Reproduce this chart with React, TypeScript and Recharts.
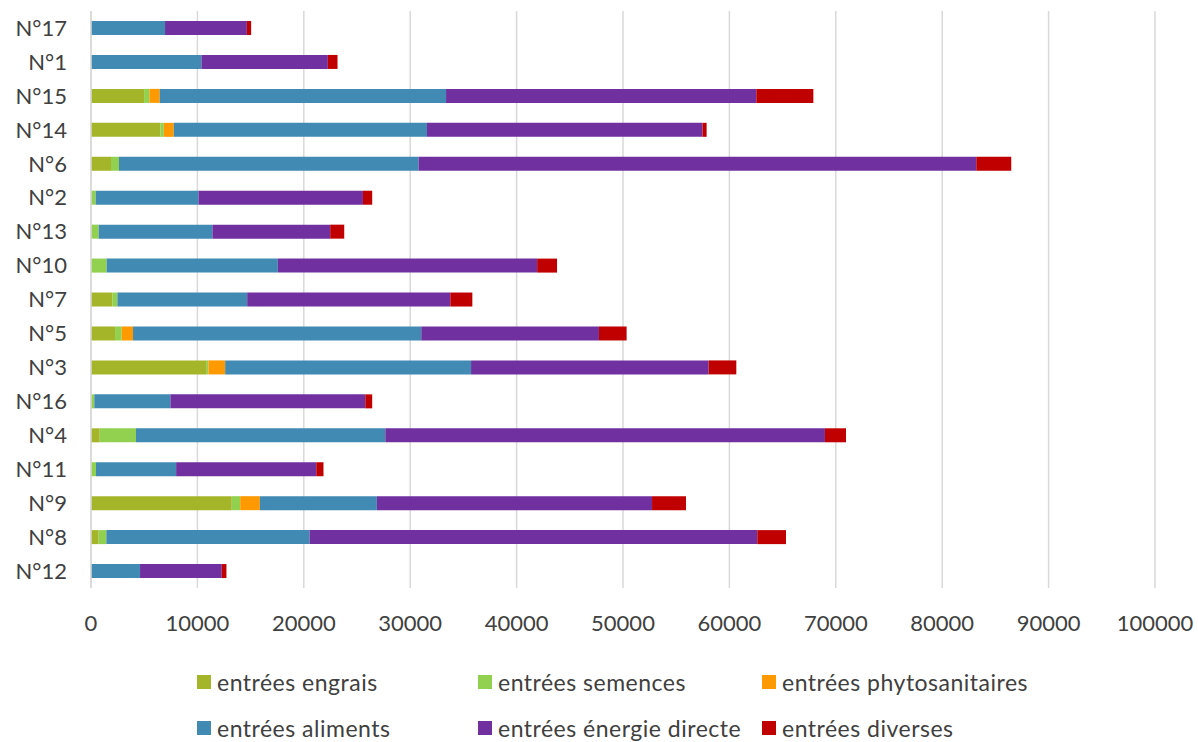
import React from 'react';
import { BarChart, Bar, XAxis, YAxis, CartesianGrid } from 'recharts';

// farms, listed top to bottom
const farms = ['N°17', 'N°1', 'N°15', 'N°14', 'N°6', 'N°2', 'N°13', 'N°10', 'N°7', 'N°5', 'N°3', 'N°16', 'N°4', 'N°11', 'N°9', 'N°8', 'N°12'];

const engrais = [0, 0, 4990, 6520, 1880, 0, 0, 0, 2010, 2260, 10880, 0, 820, 0, 13230, 720, 0];
const semences = [0, 0, 500, 320, 750, 440, 720, 1470, 470, 620, 160, 310, 3410, 470, 790, 720, 0];
const phytosanitaires = [0, 0, 970, 940, 0, 0, 0, 0, 0, 1070, 1570, 0, 0, 0, 1850, 0, 0];
const aliments = [6960, 10380, 26910, 23800, 28160, 9660, 10690, 16090, 12200, 27090, 23110, 7150, 23430, 7530, 11000, 19100, 4610];
const energie = [7690, 11880, 29160, 25890, 52410, 15460, 11070, 24370, 19090, 16700, 22330, 18320, 41320, 13170, 25860, 42080, 7680];
const diverses = [400, 910, 5360, 390, 3290, 870, 1320, 1870, 2070, 2600, 2600, 650, 1980, 680, 3190, 2700, 440];

const xTicks = [0, 10000, 20000, 30000, 40000, 50000, 60000, 70000, 80000, 90000, 100000];

const series = [
  { key: 'engrais', label: 'entrées engrais', color: '#a5b52a' },
  { key: 'semences', label: 'entrées semences', color: '#92d050' },
  { key: 'phytosanitaires', label: 'entrées phytosanitaires', color: '#ff9900' },
  { key: 'aliments', label: 'entrées aliments', color: '#418ab3' },
  { key: 'energie', label: 'entrées énergie directe', color: '#7030a0' },
  { key: 'diverses', label: 'entrées diverses', color: '#c00000' },
];

const data = farms.map((name, i) => ({
  name,
  engrais: engrais[i],
  semences: semences[i],
  phytosanitaires: phytosanitaires[i],
  aliments: aliments[i],
  energie: energie[i],
  diverses: diverses[i],
}));

const FONT = 'Lato, "Open Sans", sans-serif';
const TEXT = '#404040';

// legend grid: three columns, two rows
const legendCols = [197, 478, 762];
const legendRows = [670, 716];

const App: React.FC = () => {
  return (
    <div style={{ position: 'absolute', left: 0, top: 0, width: 1198, height: 742, background: '#fff', fontFamily: FONT }}>
      <BarChart
        width={1198}
        height={650}
        data={data}
        layout="vertical"
        margin={{ top: 11, right: 43, bottom: 0, left: 0 }}
        barSize={14}
      >
        <CartesianGrid horizontal={false} stroke="#d9d9d9" strokeWidth={1.5} />
        <XAxis
          type="number"
          domain={[0, 100000]}
          ticks={xTicks}
          interval={0}
          axisLine={false}
          tickLine={false}
          tickSize={0}
          tickMargin={27}
          height={62}
          tick={{ fontSize: 22, fill: TEXT, fontFamily: FONT }}
        />
        <YAxis
          type="category"
          dataKey="name"
          width={91}
          axisLine={{ stroke: '#d9d9d9', strokeWidth: 1.5 }}
          tickLine={false}
          tickSize={0}
          tickMargin={24}
          interval={0}
          tick={{ fontSize: 22, fill: TEXT, fontFamily: FONT }}
        />
        {series.map((s) => (
          <Bar key={s.key} dataKey={s.key} stackId="a" fill={s.color} isAnimationActive={false} />
        ))}
      </BarChart>
      {series.map((s, i) => (
        <div
          key={s.key}
          style={{
            position: 'absolute',
            left: legendCols[i % 3],
            top: legendRows[Math.floor(i / 3)],
            display: 'flex',
            alignItems: 'center',
            fontSize: 23,
            letterSpacing: 0.5,
            color: TEXT,
            whiteSpace: 'nowrap',
            lineHeight: '24px',
          }}
        >
          <span style={{ display: 'inline-block', width: 14, height: 14, background: s.color, marginRight: 6 }} />
          {s.label}
        </div>
      ))}
    </div>
  );
};

export default App;
